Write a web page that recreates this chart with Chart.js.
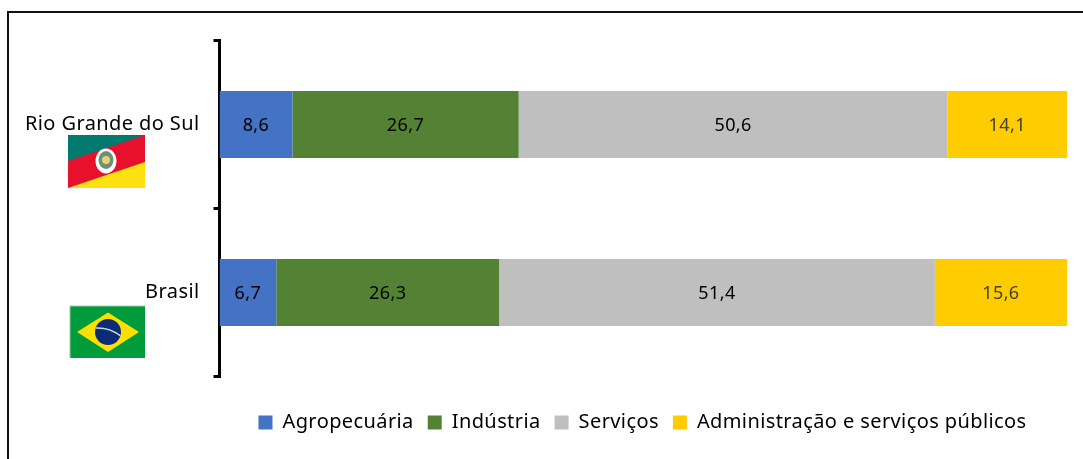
<!DOCTYPE html>
<html><head><meta charset="utf-8">
<script src="https://cdn.jsdelivr.net/npm/chart.js@4/dist/chart.umd.min.js"></script>
<style>
html,body{margin:0;padding:0;background:#fff;overflow:hidden}
#wrap{position:relative;width:1083px;height:459px}
#frame{position:absolute;left:7px;top:11px;right:-5px;bottom:-5px;border:2px solid #111;pointer-events:none}
canvas{position:absolute;left:0;top:0}
</style></head><body>
<div id="wrap"><canvas id="c" width="1083" height="459"></canvas><div id="frame"></div></div>
<script>
const categories = ["Rio Grande do Sul", "Brasil"];
const agropecuaria = [8.6, 6.7];
const industria = [26.7, 26.3];
const servicos = [50.6, 51.4];
const administracao = [14.1, 15.6];
const seriesNames = ["Agropecuária", "Indústria", "Serviços", "Administração e serviços públicos"];
const FONT = '"Noto Sans"';

const spacing = {
  id: 'spacing',
  beforeUpdate(chart) { chart.ctx.letterSpacing = '0.4px'; }
};

const barLabels = {
  id: 'barLabels',
  afterDatasetsDraw(chart) {
    const ctx = chart.ctx;
    ctx.save();
    ctx.font = '18px ' + FONT;
    ctx.textAlign = 'center';
    ctx.textBaseline = 'middle';
    chart.data.datasets.forEach((ds, i) => {
      chart.getDatasetMeta(i).data.forEach((bar, j) => {
        ctx.fillStyle = i === 3 ? '#404040' : '#000';
        ctx.fillText(ds.data[j].toFixed(1).replace('.', ','), bar.x - (bar.x - bar.base) / 2, bar.y + 1);
      });
    });
    ctx.restore();
  }
};

function drawRS(ctx, x, y) {
  const w = 77, h = 53;
  ctx.fillStyle = '#E8112D'; ctx.fillRect(x, y, w, h);
  ctx.fillStyle = '#007A6C';
  ctx.beginPath(); ctx.moveTo(x, y); ctx.lineTo(x + w, y); ctx.lineTo(x, y + 26); ctx.closePath(); ctx.fill();
  ctx.fillStyle = '#FFE011';
  ctx.beginPath(); ctx.moveTo(x, y + h); ctx.lineTo(x + w, y + 27); ctx.lineTo(x + w, y + h); ctx.closePath(); ctx.fill();
  const cx = x + 38, cy = y + 26;
  ctx.fillStyle = '#fff';
  ctx.beginPath(); ctx.ellipse(cx, cy, 10.5, 12.5, 0, 0, Math.PI * 2); ctx.fill();
  ctx.fillStyle = '#6f8f72';
  ctx.beginPath(); ctx.ellipse(cx, cy - 1, 7.5, 9, 0, 0, Math.PI * 2); ctx.fill();
  ctx.fillStyle = '#e6d27a';
  ctx.beginPath(); ctx.arc(cx, cy - 1, 4, 0, Math.PI * 2); ctx.fill();
}
function drawBR(ctx, x, y) {
  const w = 75, h = 52;
  ctx.fillStyle = '#009B3A'; ctx.fillRect(x, y, w, h);
  ctx.strokeStyle = '#8fd0a8'; ctx.lineWidth = 1;
  ctx.beginPath(); ctx.moveTo(x, y + h); ctx.lineTo(x, y); ctx.lineTo(x + w, y); ctx.stroke();
  ctx.fillStyle = '#FEDF00';
  ctx.beginPath(); ctx.moveTo(x + 7, y + 26); ctx.lineTo(x + 38, y + 6.5); ctx.lineTo(x + 69, y + 26); ctx.lineTo(x + 38, y + 46); ctx.closePath(); ctx.fill();
  ctx.fillStyle = '#0B2A78';
  ctx.beginPath(); ctx.arc(x + 38, y + 26, 13, 0, Math.PI * 2); ctx.fill();
  ctx.save();
  ctx.beginPath(); ctx.arc(x + 38, y + 26, 13, 0, Math.PI * 2); ctx.clip();
  ctx.strokeStyle = '#c8d8e0'; ctx.lineWidth = 1.5;
  ctx.beginPath(); ctx.moveTo(x + 25, y + 22); ctx.quadraticCurveTo(x + 40, y + 21, x + 52, y + 31); ctx.stroke();
  ctx.restore();
}
const flags = {
  id: 'flags',
  afterDraw(chart) {
    const yS = chart.scales.y, ctx = chart.ctx;
    ctx.save();
    drawRS(ctx, 68, yS.getPixelForTick(0) + 10.5);
    drawBR(ctx, 70, yS.getPixelForTick(1) + 13.5);
    ctx.restore();
  }
};
const legendShift = {
  id: 'legendShift',
  afterLayout(chart) {
    const l = chart.legend;
    l.left += 109; l.right += 109;
    l.top += 22; l.bottom += 22;
  }
};

new Chart(document.getElementById('c'), {
  type: 'bar',
  plugins: [spacing, barLabels, flags, legendShift],
  data: {
    labels: categories,
    datasets: [
      { label: seriesNames[0], data: agropecuaria, backgroundColor: '#4472C4' },
      { label: seriesNames[1], data: industria, backgroundColor: '#548235' },
      { label: seriesNames[2], data: servicos, backgroundColor: '#BFBFBF' },
      { label: seriesNames[3], data: administracao, backgroundColor: '#FFCC00' }
    ]
  },
  options: {
    indexAxis: 'y',
    responsive: false,
    animation: false,
    barPercentage: 0.4,
    categoryPercentage: 1,
    layout: { padding: { top: 40.5, right: 16, bottom: 38.5, left: 0 } },
    scales: {
      x: { stacked: true, min: 0, max: 100, display: false },
      y: {
        stacked: true,
        afterFit(s) { s.width = 219.5; },
        border: { display: true, color: '#000', width: 3 },
        grid: { drawOnChartArea: false, color: '#000', lineWidth: 3, tickLength: 6, offset: true },
        ticks: { color: '#000', padding: 14, font: { family: FONT, size: 20 } }
      }
    },
    plugins: {
      tooltip: { enabled: false },
      legend: {
        position: 'bottom',
        labels: { color: '#000', boxWidth: 14, boxHeight: 14, padding: 14, font: { family: FONT, size: 20 } }
      }
    }
  }
});
</script>
</body></html>
